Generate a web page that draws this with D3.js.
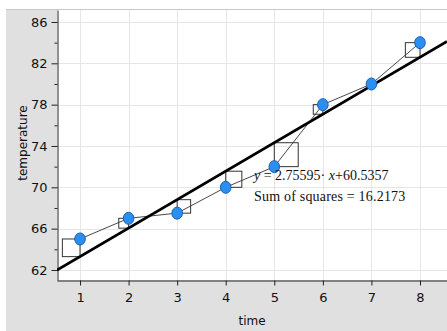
<!DOCTYPE html>
<html>
  <head>
    <meta charset="utf-8">
    <title>Temperature vs time</title>
    <script src="https://cdn.jsdelivr.net/npm/d3@7/dist/d3.min.js"></script>
    <style>
      body { margin: 0; background: #fff; }
    </style>
  </head>
  <body>
    <div id="chart"></div>

    <script>
      // data
      const times = [1, 2, 3, 4, 5, 6, 7, 8];
      const temps = [65, 67, 67.5, 70, 72, 78, 80, 84];
      const slope = 2.75595;
      const intercept = 60.5357;
      const xTicks = [1, 2, 3, 4, 5, 6, 7, 8];
      const yTicks = [62, 66, 70, 74, 78, 82, 86];
      const yMinor = [64, 68, 72, 76, 80, 84];
      const eqText = '2.75595\u00b7 ';
      const sumText = 'Sum of squares = 16.2173';

      const W = 447, H = 331;
      const plot = { left: 57, right: 447, top: 10, bottom: 280 };
      const sans = '"DejaVu Sans", sans-serif';
      const serif = '"Liberation Serif", "Times New Roman", serif';

      const x = d3.scaleLinear().domain([0.526, 8.556]).range([plot.left, plot.right]);
      const y = d3.scaleLinear().domain([61.03, 87.16]).range([plot.bottom, plot.top]);

      const svg = d3.select('#chart')
        .append('svg')
        .attr('width', W)
        .attr('height', H);

      // gray frame
      svg.append('rect')
        .attr('x', 6).attr('y', 9)
        .attr('width', W - 6).attr('height', H - 9)
        .attr('fill', '#e0e0e0');
      svg.append('line')
        .attr('x1', 6).attr('x2', W).attr('y1', 9.5).attr('y2', 9.5)
        .attr('stroke', '#c8c8c8');

      svg.append('rect')
        .attr('x', plot.left).attr('y', plot.top)
        .attr('width', plot.right - plot.left).attr('height', plot.bottom - plot.top)
        .attr('fill', '#fff');

      svg.append('clipPath').attr('id', 'clip')
        .append('rect')
        .attr('x', plot.left).attr('y', plot.top)
        .attr('width', plot.right - plot.left).attr('height', plot.bottom - plot.top);

      // grid
      const grid = svg.append('g').attr('stroke', '#e6e6e6').attr('stroke-width', 1);
      grid.selectAll('.gx').data(xTicks).enter().append('line')
        .attr('x1', d => Math.round(x(d)) + 0.5).attr('x2', d => Math.round(x(d)) + 0.5)
        .attr('y1', plot.top).attr('y2', plot.bottom);
      grid.selectAll('.gy').data(yTicks).enter().append('line')
        .attr('y1', d => Math.round(y(d)) + 0.5).attr('y2', d => Math.round(y(d)) + 0.5)
        .attr('x1', plot.left).attr('x2', plot.right);

      // axes
      const xAxis = svg.append('g')
        .attr('transform', `translate(0,${plot.bottom + 0.5})`)
        .call(d3.axisBottom(x).tickValues(xTicks).tickSize(5).tickSizeOuter(0).tickPadding(7));
      const yAxis = svg.append('g')
        .attr('transform', `translate(${plot.left + 0.5},0)`)
        .call(d3.axisLeft(y).tickValues(yTicks).tickSize(6).tickSizeOuter(0).tickPadding(4));
      svg.append('g')
        .attr('transform', `translate(${plot.left + 0.5},0)`)
        .call(d3.axisLeft(y).tickValues(yMinor).tickSize(3).tickFormat('').tickSizeOuter(0))
        .select('.domain').remove();

      [xAxis, yAxis].forEach(a => {
        a.select('.domain').attr('stroke', '#222');
        a.selectAll('text').attr('font-size', 13).attr('fill', '#111')
          .attr('font-family', sans);
      });
      svg.selectAll('.tick line').attr('stroke', '#222');

      // axis titles
      svg.append('text')
        .attr('x', (plot.left + plot.right) / 2).attr('y', 325)
        .attr('text-anchor', 'middle').attr('font-size', 12).attr('fill', '#111')
        .attr('font-family', sans)
        .text('time');
      svg.append('text')
        .attr('transform', 'translate(27,143) rotate(-90)')
        .attr('text-anchor', 'middle').attr('font-size', 12).attr('fill', '#111')
        .attr('font-family', sans)
        .text('temperature');

      const g = svg.append('g').attr('clip-path', 'url(#clip)');

      // residual squares
      const pts = times.map((t, i) => ({ t, v: temps[i], p: slope * t + intercept }));
      g.selectAll('rect.sq').data(pts).enter().append('rect')
        .attr('class', 'sq')
        .attr('width', d => Math.abs(y(d.v) - y(d.p)))
        .attr('height', d => Math.abs(y(d.v) - y(d.p)))
        .attr('x', d => d.v > d.p ? x(d.t) - Math.abs(y(d.v) - y(d.p)) : x(d.t))
        .attr('y', d => Math.min(y(d.v), y(d.p)))
        .attr('fill', 'none')
        .attr('stroke', '#333')
        .attr('stroke-width', 1);

      // connecting line
      g.append('path')
        .datum(pts)
        .attr('d', d3.line().x(d => x(d.t)).y(d => y(d.v)))
        .attr('fill', 'none')
        .attr('stroke', '#333')
        .attr('stroke-width', 0.9);

      // regression line
      const xd = x.domain();
      g.append('line')
        .attr('x1', x(xd[0])).attr('y1', y(slope * xd[0] + intercept))
        .attr('x2', x(xd[1])).attr('y2', y(slope * xd[1] + intercept))
        .attr('stroke', '#000')
        .attr('stroke-width', 2.8);

      // points
      g.selectAll('ellipse').data(pts).enter().append('ellipse')
        .attr('cx', d => x(d.t)).attr('cy', d => y(d.v))
        .attr('rx', 5.3).attr('ry', 6)
        .attr('fill', '#2a8ff0')
        .attr('stroke', '#1b5fb0')
        .attr('stroke-width', 1);

      // equation
      const eq = svg.append('text')
        .attr('x', 254).attr('y', 180)
        .attr('font-family', serif)
        .attr('font-size', 14).attr('fill', '#111');
      eq.append('tspan').attr('font-style', 'italic').text('y');
      eq.append('tspan').text(' = ' + eqText);
      eq.append('tspan').attr('font-style', 'italic').text('x');
      eq.append('tspan').text('+' + intercept);

      svg.append('text')
        .attr('x', 254).attr('y', 201)
        .attr('font-family', serif)
        .attr('font-size', 14).attr('fill', '#111')
        .attr('letter-spacing', 0.2)
        .text(sumText);
    </script>
  </body>
</html>
